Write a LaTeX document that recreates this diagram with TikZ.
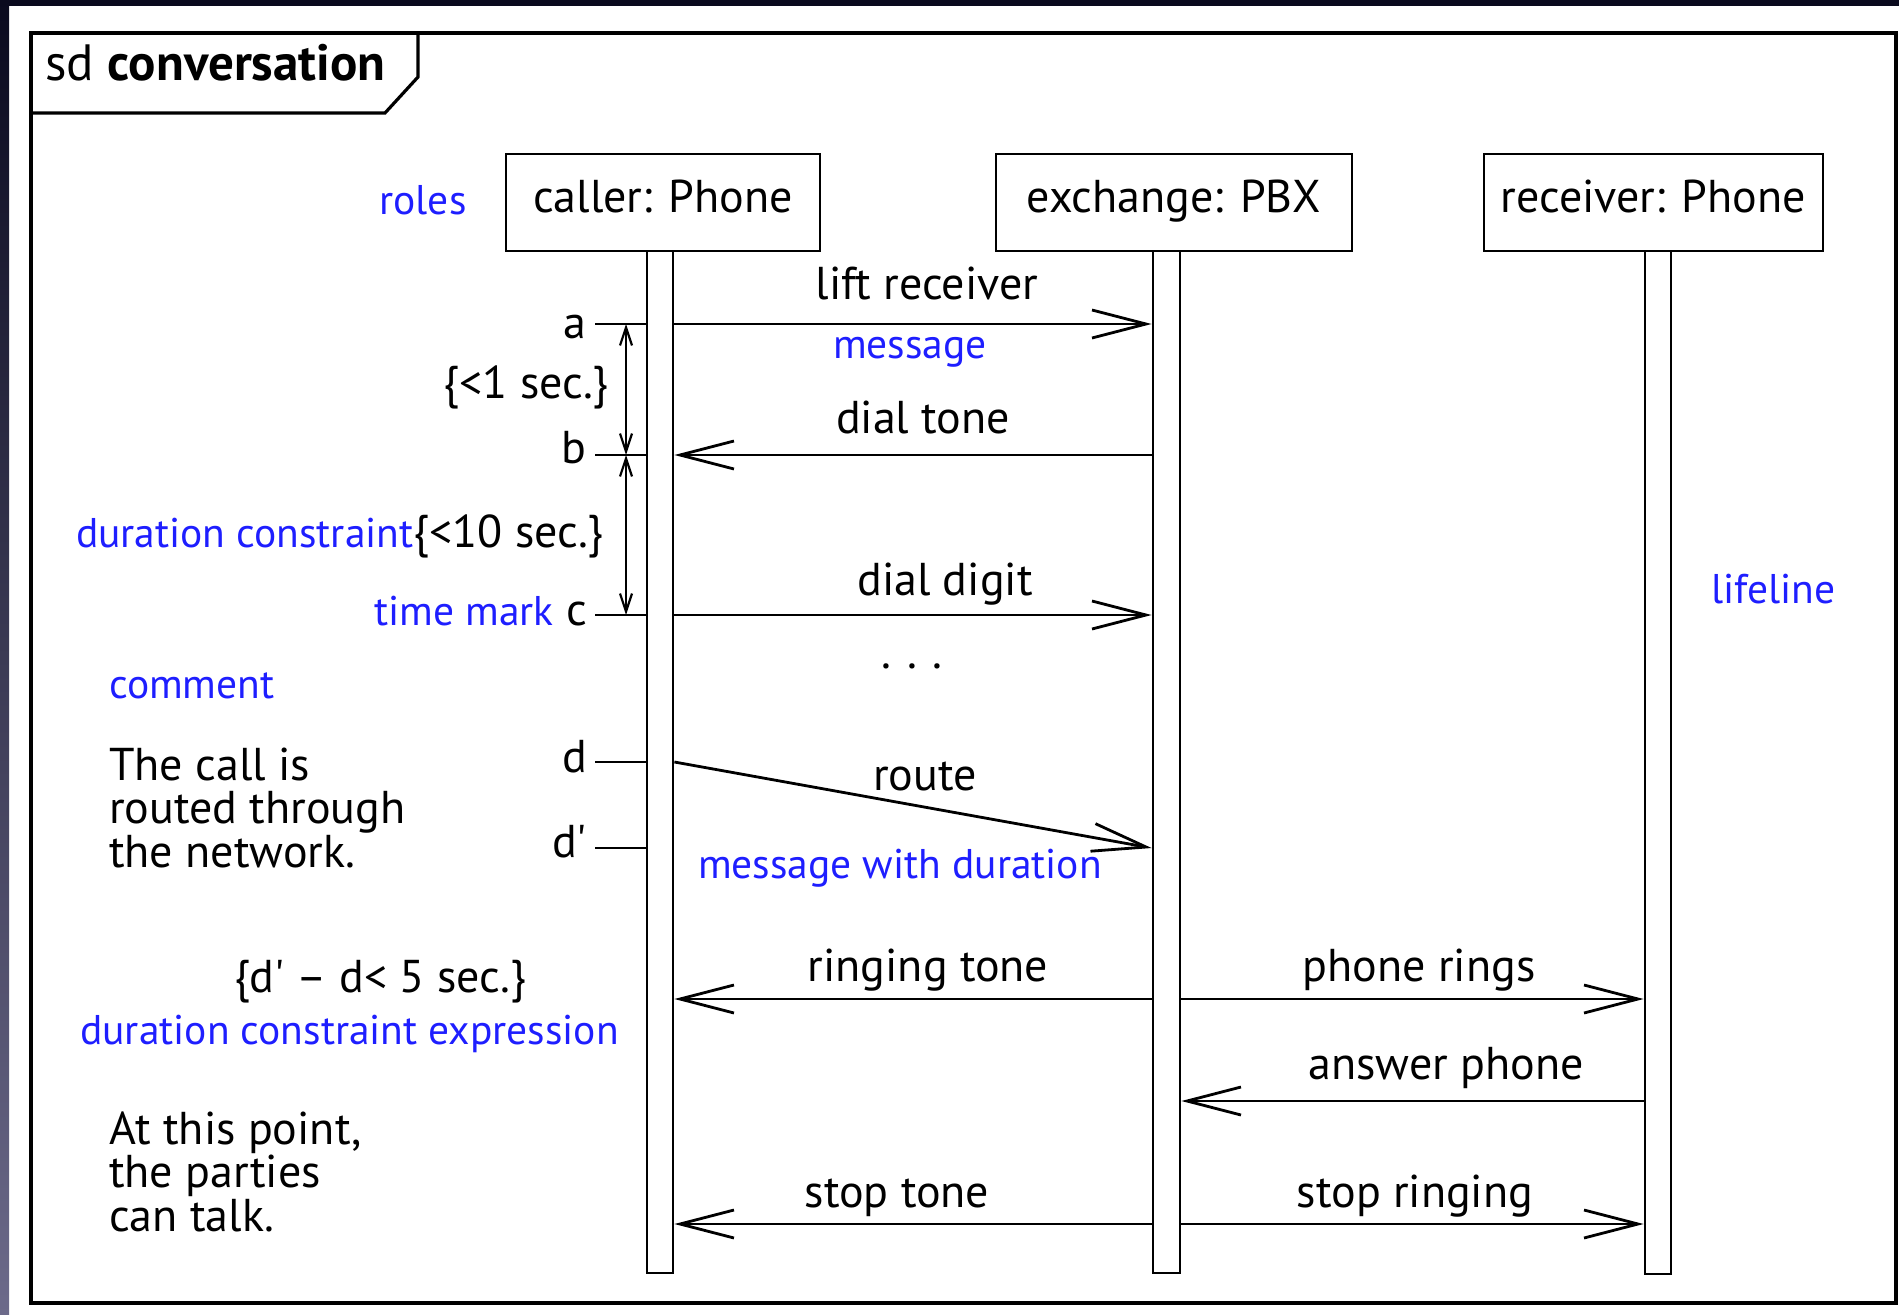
\documentclass[tikz,border=0pt]{standalone}
\usepackage{fontspec}
\setmainfont{PT Sans}
\usetikzlibrary{arrows.meta}
\definecolor{umlblue}{RGB}{30,30,255}
\definecolor{bgdark}{RGB}{10,10,30}
\definecolor{bglight}{RGB}{108,106,138}
\newcommand\bl[1]{{\color{umlblue}\fontsize{41.5}{44}\selectfont #1}}
\begin{document}
\begin{tikzpicture}[x=1pt,y=-1pt,
  lw/.style={line width=2.8pt},
  txt/.style={font=\fontsize{46}{43.5}\selectfont, inner sep=0pt},
  btxt/.style={font=\fontsize{41.5}{44}\selectfont, text=umlblue, inner sep=0pt},
  head/.style={draw, lw, inner sep=0pt, minimum height=97pt, text height=30pt, text depth=11pt, font=\fontsize{46}{44}\selectfont},
  bar/.style={draw, lw, fill=white, inner sep=0pt, minimum width=26pt},
  msg/.style={lw, -{Straight Barb[length=54pt,width=28pt]}},
  dur/.style={line width=2.2pt, {Straight Barb[length=18pt,width=12pt]}-{Straight Barb[length=18pt,width=12pt]}},
  tick/.style={lw},
]
\useasboundingbox (0,0) rectangle (1899,1315);
% background
\fill[white] (0,0) rectangle (1899,1315);
\fill[bgdark] (0,0) rectangle (1899,6);
\shade[top color=bgdark, bottom color=bglight] (0,0) rectangle (9,1315);

% frame
\draw[line width=3.2pt] (31,33) rectangle (1896,1303);
\draw[line width=3.2pt] (31,113) -- (385,113) -- (418,77) -- (418,33);
\node[font=\fontsize{51}{50}\selectfont, inner sep=0pt, anchor=base west] (title) at (45,80) {sd \textbf{conversation}};

% lifeline heads
\node[head, minimum width=314pt] (caller) at (663,202.5) {caller: Phone};
\node[head, minimum width=356pt] (exch) at (1174,202.5) {exchange: PBX};
\node[head, minimum width=339pt] (recv) at (1653.5,202.5) {receiver: Phone};

% activation bars
\node[bar, minimum height=1022pt] (cbar) at (660,762) {};
\node[bar, minimum height=1022pt, minimum width=27pt] (xbar) at (1166.5,762) {};
\node[bar, minimum height=1023pt] (rbar) at (1658,762.5) {};

% time marks
\coordinate (ta) at (595,324);
\coordinate (tb) at (595,455);
\coordinate (tc) at (595,615);
\coordinate (td) at (595,762);
\coordinate (tdd) at (595,848);
\coordinate (yrt) at (0,999);
\coordinate (yap) at (0,1101);
\coordinate (yst) at (0,1224);
\foreach \t in {ta,tb,tc,td,tdd} \draw[tick] (\t) -- (cbar.west |- \t);

\node[txt, anchor=base east] (la) at (587,338) {a};
\node[txt, anchor=base east] (lb) at (587,463) {b};
\node[txt, anchor=base east] (lc) at (587,625) {\bl{time mark} c};
\node[txt, anchor=base east] (ld) at (587,772) {d};
\node[txt, anchor=base east] (ldd) at (587,857) {d\textquotesingle};

% duration constraints
\coordinate (da) at (626,324);
\coordinate (db) at (626,455);
\coordinate (dc) at (626,615);
\draw[dur] (da) -- (db);
\draw[dur] (db) -- (dc);
\node[txt, anchor=base east] (c1) at (609,398) {\{<1 sec.\}};
\node[txt, anchor=base east] (c10) at (604,547) {\bl{duration constraint}\{<10 sec.\}};

% messages
\draw[msg] (cbar.east |- ta) -- (xbar.west |- ta);
\draw[msg] (xbar.west |- tb) -- (cbar.east |- tb);
\draw[msg] (cbar.east |- tc) -- (xbar.west |- tc);
\draw[msg] (cbar.east |- td) -- (xbar.west |- tdd);
\draw[msg] (xbar.west |- yrt) -- (cbar.east |- yrt);
\draw[msg] (xbar.east |- yrt) -- (rbar.west |- yrt);
\draw[msg] (rbar.west |- yap) -- (xbar.east |- yap);
\draw[msg] (xbar.west |- yst) -- (cbar.east |- yst);
\draw[msg] (xbar.east |- yst) -- (rbar.west |- yst);

\node[txt, anchor=base] (m1) at (927,299) {lift receiver};
\node[btxt, anchor=base] (m1b) at (910,358) {message};
\node[txt, anchor=base] (m2) at (923,433) {dial tone};
\node[txt, anchor=base] (m3) at (945,595) {dial digit};
\node[txt, anchor=base] (dots) at (912,668) {.\,\,.\,\,.};
\node[txt, anchor=base] (m4) at (925,790) {route};
\node[btxt, anchor=base] (m4b) at (900,878) {message with duration};
\node[txt, anchor=base] (m5) at (928,981) {ringing tone};
\node[txt, anchor=base] (m6) at (1419,981) {phone rings};
\node[txt, anchor=base] (m7) at (1446,1079) {answer phone};
\node[txt, anchor=base] (m8) at (897,1207) {stop tone};
\node[txt, anchor=base] (m9) at (1415,1207) {stop ringing};

% annotations
\node[btxt, anchor=base] (roles) at (423,214) {roles};
\node[btxt, anchor=base west] (comment) at (109,698) {comment};
\node[txt, anchor=base west, align=left] (note1) at (109,867) {The call is\\routed through\\the network.};
\node[txt, anchor=base] (dexp) at (380,992) {\{d\textquotesingle{} – d< 5 sec.\}};
\node[btxt, anchor=base west] (dexpl) at (80,1044) {duration constraint expression};
\node[txt, anchor=base west, align=left] (note2) at (109,1231) {At this point,\\the parties\\can talk.};
\node[btxt, anchor=base west] (lifeline) at (1711,603) {lifeline};
\end{tikzpicture}
\end{document}
